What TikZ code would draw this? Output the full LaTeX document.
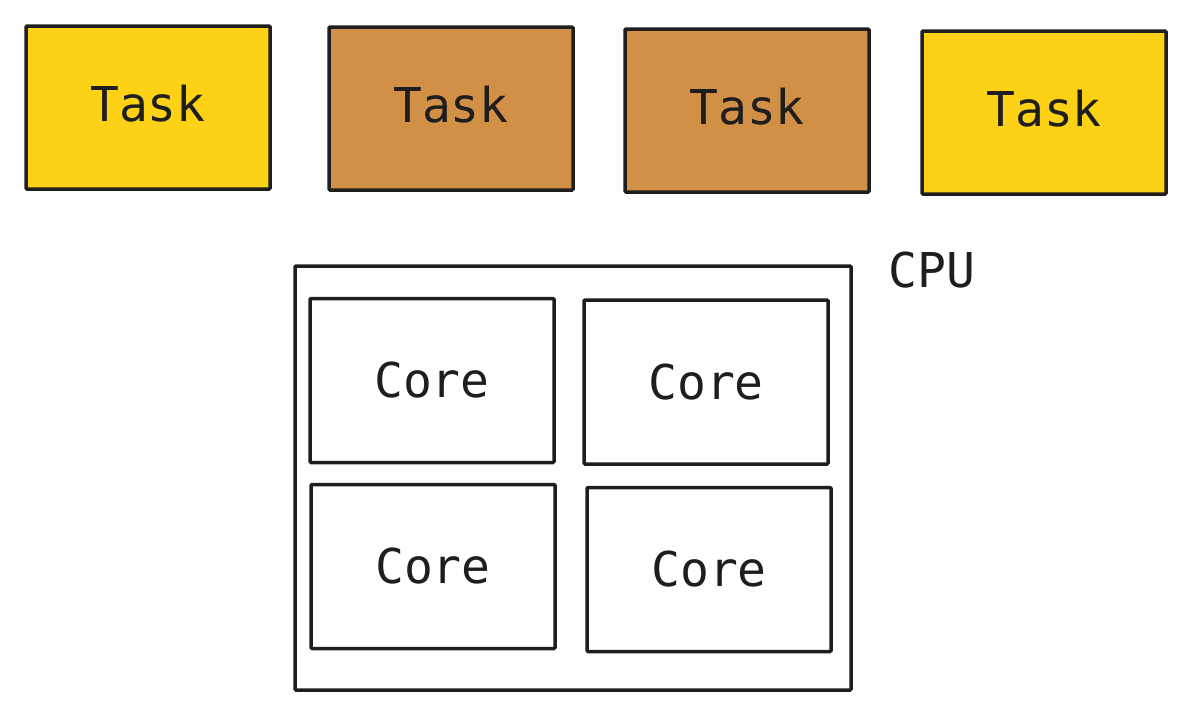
\documentclass[tikz,border=0pt]{standalone}
\usepackage{fontspec}
\setmonofont{DejaVu Sans Mono}
\usepackage{tikz}
\usetikzlibrary{positioning}
\definecolor{taskyellow}{RGB}{252,209,22}
\definecolor{taskorange}{RGB}{210,143,70}
\definecolor{edgegray}{RGB}{30,30,30}
\tikzset{every node/.style={font=\ttfamily\fontsize{48}{56}\selectfont,text=edgegray}}
\tikzset{box/.style={draw=edgegray,line width=3.5pt,rounded corners=1pt,inner sep=0pt}}
\tikzset{taskbox/.style={box,minimum width=244pt,minimum height=163pt,text depth=9pt}}
\tikzset{corebox/.style={box,minimum width=244pt,minimum height=164pt}}

\begin{document}
\begin{tikzpicture}[x=1pt,y=-1pt]
        \useasboundingbox (0,0) rectangle (1187,702);
        \node[taskbox,fill=taskyellow] (t1) at (148,107.5)  {Task};
        \node[taskbox,fill=taskorange] (t2) at (451,108.5)  {Task};
        \node[taskbox,fill=taskorange] (t3) at (747,110.5)  {Task};
        \node[taskbox,fill=taskyellow] (t4) at (1044,112.5) {Task};
        \node[box,minimum width=556pt,minimum height=424pt] (cpu) at (573,478) {};
        \node[anchor=base] (cpulabel) at (932,287) {CPU};
        \node[corebox] (c1) at (432,380.5) {Core};
        \node[corebox] (c2) at (706,382)   {Core};
        \node[corebox] (c3) at (433,566.5) {Core};
        \node[corebox] (c4) at (709,569.5) {Core};
    \end{tikzpicture}
\end{document}
